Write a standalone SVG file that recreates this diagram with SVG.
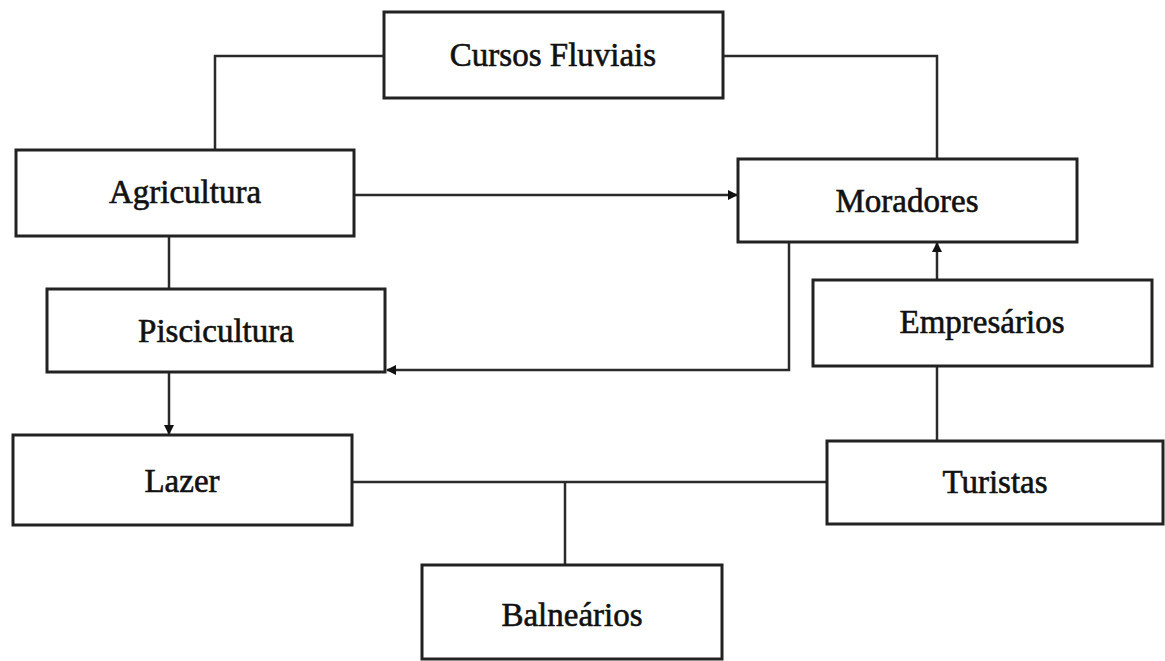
<svg xmlns="http://www.w3.org/2000/svg" width="1165" height="661" viewBox="0 0 1165 661">
<style>
.box{fill:#fff;stroke:#222;stroke-width:3}
.lbl{font-family:"Liberation Serif","Times New Roman",serif;font-size:33px;fill:#111;text-anchor:middle;stroke:#111;stroke-width:0.6}
.ln{fill:none;stroke:#2a2a2a;stroke-width:2.5}
</style>
<defs>
<marker id="arr" viewBox="0 0 10 10" refX="9" refY="5" markerWidth="4" markerHeight="4" orient="auto" markerUnits="strokeWidth">
<path d="M0,0 L10,5 L0,10 z" fill="#111"/>
</marker>
</defs>
<rect width="1165" height="661" fill="#fff"/>
<g id="connectors">
<polyline class="ln" points="384,56 215,56 215,150"/>
<polyline class="ln" points="723,56 937,56 937,159"/>
<line class="ln" x1="354" y1="195" x2="737" y2="195" marker-end="url(#arr)"/>
<polyline class="ln" points="789,242 789,370 387,370" marker-end="url(#arr)"/>
<line class="ln" x1="937" y1="280" x2="937" y2="243" marker-end="url(#arr)"/>
<line class="ln" x1="937" y1="366" x2="937" y2="441"/>
<line class="ln" x1="169" y1="236" x2="169" y2="289"/>
<line class="ln" x1="169" y1="372" x2="169" y2="434" marker-end="url(#arr)"/>
<line class="ln" x1="352" y1="482" x2="827" y2="482"/>
<line class="ln" x1="565" y1="482" x2="565" y2="565"/>
</g>
<g id="cursos"><rect class="box" x="384" y="12" width="339" height="86"/><text class="lbl" x="553" y="66">Cursos Fluviais</text></g>
<g id="agricultura"><rect class="box" x="16" y="150" width="338" height="86"/><text class="lbl" x="185" y="203">Agricultura</text></g>
<g id="moradores"><rect class="box" x="738" y="159" width="339" height="83"/><text class="lbl" x="907" y="212">Moradores</text></g>
<g id="piscicultura"><rect class="box" x="47" y="289" width="338" height="83"/><text class="lbl" x="216" y="342">Piscicultura</text></g>
<g id="empresarios"><rect class="box" x="813" y="280" width="339" height="86"/><text class="lbl" x="982" y="333">Empresários</text></g>
<g id="lazer"><rect class="box" x="13" y="435" width="339" height="90"/><text class="lbl" x="182" y="492">Lazer</text></g>
<g id="turistas"><rect class="box" x="827" y="441" width="336" height="83"/><text class="lbl" x="995" y="493">Turistas</text></g>
<g id="balnearios"><rect class="box" x="422" y="565" width="300" height="94"/><text class="lbl" x="572" y="626">Balneários</text></g>
</svg>
